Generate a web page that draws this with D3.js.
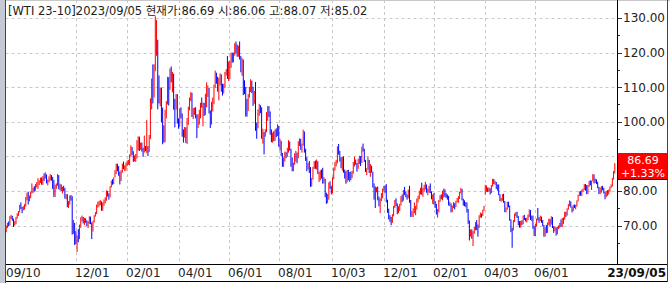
<!DOCTYPE html>
<html><head><meta charset="utf-8">
<script src="https://cdn.jsdelivr.net/npm/d3@7"></script>
<style>html,body{margin:0;padding:0;background:#fff;} svg{display:block;}</style>
</head><body>
<svg id="c" width="670" height="283"></svg>
<script>
// ---------------- DATA ----------------
const header = "[WTI 23-10]2023/09/05 현재가:86.69 시:86.06 고:88.07 저:85.02";
const startDate = "2021-09-10", endDate = "2023-09-05";
const holidays = ["2021-11-25","2021-12-24","2022-01-17","2022-02-21","2022-04-15","2022-05-30","2022-06-20","2022-07-04","2022-09-05","2022-11-24","2022-12-26","2023-01-02","2023-01-16","2023-02-20","2023-04-07","2023-05-29","2023-06-19","2023-07-04","2023-09-04"];

const closes = [
69.72,70.45,70.46,72.61,72.61,71.97,70.29,70.56,72.23,73.30,73.98,75.45,75.29,74.83,75.03,
75.88,77.62,78.93,77.43,78.30,79.35,80.52,80.64,80.44,81.31,82.28,82.44,82.96,83.87,82.50,83.76,83.76,84.65,82.66,82.81,83.57,
84.05,83.91,80.86,78.81,81.27,81.93,84.15,81.34,81.59,80.79,80.88,80.76,78.36,79.01,75.94,76.75,78.50,78.39,68.15,69.95,66.18,
65.57,66.50,66.26,69.49,72.05,72.36,70.94,71.67,71.29,70.73,70.87,72.38,70.86,68.61,71.12,72.76,73.79,75.57,75.98,76.56,76.99,75.21,
76.08,76.99,77.85,79.46,78.90,78.23,81.22,82.64,82.12,83.82,85.43,86.96,86.90,85.14,83.31,85.60,87.35,86.61,86.82,88.15,
88.20,88.26,90.27,92.31,91.32,89.36,89.66,89.88,93.10,95.46,92.07,93.66,91.76,91.07,92.35,92.10,92.81,91.59,95.72,
103.41,110.60,107.67,115.68,119.40,123.70,108.70,106.02,109.33,103.01,96.44,95.04,102.98,104.70,112.12,109.27,114.93,112.34,113.90,105.96,104.24,107.82,100.28,
99.27,103.28,101.96,96.23,96.03,98.26,94.29,100.60,104.25,106.95,108.21,102.56,102.75,103.79,102.07,98.54,101.70,102.02,105.36,104.69,
105.17,102.41,107.81,108.26,109.77,103.09,99.76,105.71,106.13,110.49,114.20,112.40,109.59,112.21,113.23,110.29,109.77,110.33,114.09,115.07,114.67,
115.26,116.87,118.87,118.50,119.41,122.11,121.51,120.67,120.93,118.93,115.31,117.59,109.56,109.52,106.19,104.27,107.62,109.57,111.76,109.78,105.76,
108.43,99.50,98.53,102.73,104.79,104.09,95.84,96.30,95.78,97.59,102.60,104.22,102.26,96.35,94.70,96.70,94.98,97.26,96.42,98.62,
93.89,94.42,90.66,88.54,89.01,90.76,90.50,91.93,94.34,92.09,89.41,86.53,87.85,90.50,90.77,90.23,93.74,94.89,92.52,93.06,97.01,91.64,89.55,
86.61,86.87,86.88,81.94,83.54,86.79,87.78,87.31,88.48,85.10,85.11,85.73,84.45,82.94,83.49,78.74,76.71,78.50,82.15,81.23,79.49,
83.63,86.52,87.76,88.45,92.64,91.13,89.35,87.27,89.11,85.61,85.46,82.82,85.55,84.51,85.05,84.58,85.32,87.91,89.08,87.90,86.53,
88.37,90.00,88.17,92.61,91.79,88.91,85.83,86.47,88.96,85.87,86.92,85.59,81.64,80.08,79.73,80.95,77.94,76.28,77.24,78.20,80.55,
81.22,79.98,76.93,74.25,72.01,71.46,71.02,73.17,75.39,77.28,76.11,74.29,75.19,76.09,78.29,77.49,79.56,79.53,78.96,78.40,80.26,
76.93,72.84,73.67,73.77,74.63,75.12,77.41,78.39,79.86,80.18,79.48,80.33,81.64,81.62,80.13,80.15,81.01,79.68,77.90,78.87,
76.41,75.88,73.39,74.11,77.14,78.47,78.06,79.72,80.14,79.06,78.59,78.49,76.34,76.36,73.95,75.39,76.32,75.68,77.05,
77.69,78.16,79.68,80.46,77.58,76.66,75.72,76.68,74.80,71.33,67.61,68.35,66.74,67.64,69.33,70.90,69.96,69.26,72.81,73.20,72.97,74.37,75.67,
80.42,80.71,80.61,80.70,79.74,81.53,83.26,82.16,82.52,80.83,81.86,79.16,77.37,77.87,78.76,77.07,74.30,74.76,76.78,
75.66,71.66,68.60,68.56,71.34,73.16,73.71,72.56,70.87,70.04,71.11,70.86,72.83,71.86,71.69,71.99,72.91,74.34,71.83,72.67,69.46,68.09,
70.10,71.74,72.15,71.74,72.53,71.29,70.17,67.12,69.42,68.27,70.62,71.78,70.50,72.53,69.51,69.16,69.37,67.70,69.56,69.86,70.64,
69.79,71.79,71.80,73.86,72.99,74.83,75.75,76.89,75.42,74.15,75.75,75.35,75.63,77.07,78.74,79.63,78.78,80.09,80.58,81.80,
81.37,79.49,81.55,82.82,81.94,82.92,84.40,82.82,83.19,82.51,80.99,79.38,80.39,81.25,80.72,79.64,78.89,79.05,79.83,80.10,81.16,81.63,83.63,
85.55,86.69
];
const opens = [
68.3,69.7,70.5,70.5,72.6,72.6,71.9,70.4,70.6,72.2,73.3,74.0,75.5,75.3,74.8,
75.0,75.9,77.6,78.9,77.4,78.3,79.4,80.5,80.6,80.4,81.3,82.3,82.4,83.0,83.9,82.5,83.8,83.8,84.6,82.7,82.8,
83.6,84.1,83.9,80.9,78.8,81.3,81.9,84.1,81.3,81.6,80.8,80.9,80.8,78.4,79.0,75.9,76.8,78.5,78.4,68.2,70.0,
66.2,65.6,66.5,66.3,69.5,72.1,72.4,70.9,71.7,71.3,70.7,70.9,72.4,70.9,68.6,71.1,72.8,73.8,75.6,76.0,76.6,77.0,
75.7,76.1,77.0,77.9,79.5,78.9,78.2,81.2,82.6,82.1,84.2,85.4,87.0,86.9,85.1,83.3,85.6,87.4,86.6,86.8,
88.2,88.2,88.3,90.3,92.3,91.3,89.4,89.7,89.9,93.1,95.5,92.1,93.7,91.8,91.1,92.4,92.1,92.8,91.6,
95.7,103.4,110.6,107.7,115.7,119.4,123.7,108.7,106.0,109.3,103.0,96.4,95.0,103.0,104.7,112.1,109.3,114.9,112.3,113.9,106.0,104.2,107.8,
100.3,99.3,103.3,102.0,96.2,96.0,98.3,94.3,100.6,104.3,107.0,108.2,102.6,102.8,103.8,102.1,98.5,101.7,102.0,105.4,
104.7,105.2,102.4,107.8,108.3,109.8,103.1,99.8,105.7,106.1,110.5,114.2,112.4,109.6,112.2,113.2,110.3,109.8,110.3,114.1,115.1,
114.7,115.3,116.9,118.9,118.5,119.4,122.1,121.5,120.7,120.9,118.9,115.3,117.6,109.6,109.5,106.2,104.3,107.6,109.6,111.8,109.8,
105.8,108.4,99.5,98.5,102.7,104.8,104.1,95.8,96.3,95.8,97.6,102.6,104.2,102.3,96.4,94.7,96.7,95.0,97.3,96.4,
98.6,93.9,94.4,90.7,88.5,89.0,90.8,90.5,91.9,94.3,92.1,89.4,86.5,87.9,90.5,90.8,90.2,93.7,94.9,92.5,93.1,97.0,91.6,
89.6,86.6,86.9,86.9,81.9,83.5,86.8,87.8,87.3,88.5,85.1,85.1,85.7,84.5,82.9,83.5,78.7,76.7,78.5,82.2,81.2,
79.5,83.6,86.5,87.8,88.5,92.6,91.1,89.4,87.3,89.1,85.6,85.5,82.8,85.6,84.5,85.1,84.6,85.3,87.9,89.1,87.9,
86.5,88.4,90.0,88.2,92.6,91.8,88.9,85.8,86.5,89.0,85.9,86.9,85.6,81.6,80.1,79.7,81.0,77.9,76.3,77.2,78.2,
80.6,81.2,80.0,76.9,74.3,72.0,71.5,71.0,73.2,75.4,77.3,76.1,74.3,75.2,76.1,78.3,77.5,79.6,79.5,79.0,78.4,
80.6,76.9,72.8,73.7,73.8,74.6,75.1,77.4,78.4,79.9,80.2,79.5,80.3,81.6,81.6,80.1,80.2,81.0,79.7,77.9,
78.9,76.4,75.9,73.4,74.1,77.1,78.5,78.1,79.7,80.1,79.1,78.6,78.5,76.3,76.4,74.0,75.4,76.3,75.7,
77.1,77.7,78.2,79.7,80.5,77.6,76.7,75.7,76.7,74.8,71.3,67.6,68.4,66.7,67.6,69.3,70.9,70.0,69.3,72.8,73.2,73.0,74.4,
80.1,80.4,80.7,80.6,80.7,79.7,81.5,83.3,82.2,82.5,80.8,81.9,79.2,77.4,77.9,78.8,77.1,74.3,74.8,
76.8,75.7,71.7,68.6,68.6,71.3,73.2,73.7,72.6,70.9,70.0,71.1,70.9,72.8,71.9,71.7,72.0,72.9,74.3,71.8,72.7,69.5,
68.1,70.1,73.5,72.2,71.7,72.5,71.3,70.2,67.1,69.4,68.3,70.6,71.8,70.5,72.5,69.5,69.2,69.4,67.7,69.6,69.9,
70.6,69.8,71.8,71.8,73.9,73.0,74.8,75.8,76.9,75.4,74.2,75.8,75.4,75.6,77.1,78.7,79.6,78.8,80.1,80.6,
81.8,81.4,79.5,81.6,82.8,81.9,82.9,84.4,82.8,83.2,82.5,81.0,79.4,80.4,81.3,80.7,79.6,78.9,79.1,79.8,80.1,81.2,81.6,
83.6,86.06
];
const highs = [
70.0,70.8,71.2,72.8,73.1,72.8,72.0,71.3,72.5,73.6,74.2,76.0,76.7,75.4,75.6,
76.2,78.3,79.5,79.8,78.7,79.8,82.2,81.0,81.4,82.0,82.6,83.7,83.1,83.9,83.9,84.3,85.1,85.4,84.8,83.3,84.2,
84.9,84.6,84.1,83.2,81.8,82.2,84.9,84.6,82.1,81.9,81.2,81.5,80.9,79.1,79.1,77.1,78.7,78.8,78.5,71.6,70.8,
68.4,67.1,69.0,70.3,72.4,72.9,72.5,72.2,72.1,71.5,71.3,72.7,72.6,70.9,71.4,73.0,73.9,76.1,76.9,77.1,77.4,77.0,
76.7,77.6,78.2,80.2,80.0,79.3,81.4,83.0,83.4,84.0,86.0,87.9,87.9,87.2,85.6,86.0,87.9,88.5,87.4,88.2,
88.8,89.0,90.6,93.2,92.7,91.5,90.3,90.7,94.7,95.8,95.7,94.0,94.0,92.5,96.0,93.0,100.5,93.0,96.2,
106.8,112.5,116.6,116.6,130.5,129.4,123.7,113.4,109.9,109.9,104.1,99.0,103.5,106.0,113.0,112.9,115.4,116.0,114.4,113.9,106.6,108.0,108.0,
101.0,103.9,104.2,102.4,97.8,98.5,98.4,101.1,104.4,107.0,108.6,108.4,104.0,104.1,104.2,102.1,102.2,103.5,105.5,107.0,
105.5,105.5,108.1,111.4,110.5,109.8,103.3,105.8,107.0,110.7,114.8,114.2,113.0,112.7,114.0,113.7,111.0,111.0,114.4,115.2,119.0,
117.4,117.6,120.0,120.0,120.0,122.7,123.2,122.3,122.0,123.2,119.0,118.4,118.0,112.0,110.1,106.6,108.0,110.1,112.3,111.9,110.1,
108.9,111.5,99.8,103.6,105.2,104.8,104.2,98.0,97.1,97.9,102.8,104.6,104.5,103.0,97.8,96.9,97.3,97.8,98.1,99.3,
98.8,95.1,94.5,91.0,89.7,91.4,91.2,92.5,94.7,94.3,92.2,89.7,88.2,90.9,91.6,91.1,94.4,95.2,95.1,93.7,97.7,97.2,92.2,
89.8,88.1,88.7,86.9,83.8,87.0,88.6,88.8,89.1,88.6,85.6,86.0,86.2,86.7,84.0,83.5,79.5,79.1,82.5,82.8,81.5,
84.0,86.8,88.4,89.0,92.9,93.6,91.6,89.8,89.8,90.0,86.2,85.7,86.1,86.1,85.5,85.6,85.8,88.4,89.9,89.1,88.1,
89.3,90.2,90.1,92.8,93.7,92.2,89.0,86.6,89.9,89.0,87.8,87.3,85.6,82.2,81.3,81.1,81.3,78.4,77.9,79.4,80.7,
81.5,81.6,82.0,77.5,74.9,73.0,72.5,73.3,75.7,77.4,77.9,76.4,75.6,76.3,78.5,79.0,80.3,81.2,79.9,79.0,80.4,
81.5,77.4,74.2,75.0,76.7,75.7,77.8,78.6,80.1,80.9,82.4,80.9,81.8,82.7,81.9,80.7,81.5,82.2,79.9,79.0,
79.4,77.1,76.3,74.8,77.4,78.8,79.0,80.1,80.7,80.5,79.4,79.0,78.6,76.9,76.4,75.8,76.8,76.5,77.2,
78.0,78.5,79.8,80.9,80.6,77.8,77.3,76.8,76.7,74.8,71.5,68.9,68.9,68.4,69.6,71.0,71.6,70.3,73.0,73.8,73.5,74.6,75.7,
81.8,81.6,81.0,81.0,80.8,81.7,83.5,83.5,83.0,82.6,81.9,81.9,79.1,78.0,79.1,79.2,77.1,75.2,76.9,
76.9,75.8,71.8,69.4,71.6,73.5,73.9,74.0,72.8,71.3,71.4,71.5,72.9,73.1,72.2,72.3,73.2,74.7,74.5,72.9,72.9,69.9,
70.5,72.0,75.1,72.4,72.9,72.6,71.6,70.2,69.5,70.2,70.9,72.0,71.9,72.7,72.5,69.8,69.8,69.5,69.7,70.1,70.8,
71.8,72.2,72.4,74.0,74.0,75.0,76.2,77.3,77.0,75.5,76.0,76.1,76.0,77.3,78.9,79.9,80.0,80.4,80.7,82.0,
82.0,81.7,81.7,82.9,83.1,83.0,84.9,84.8,83.6,83.4,82.7,81.2,81.0,81.4,81.5,80.9,79.8,80.0,80.3,80.4,81.3,81.9,83.8,
85.8,88.07
];
const lows = [
68.1,69.3,69.8,70.0,71.9,71.4,69.6,70.0,70.4,72.0,72.8,73.8,74.8,73.6,74.4,
74.6,75.5,77.3,76.1,77.0,77.9,79.3,79.4,79.8,80.1,81.0,80.6,81.7,82.3,81.8,81.8,82.9,83.6,82.2,81.6,82.5,
83.0,83.0,80.6,78.3,78.3,80.6,81.5,80.5,80.2,80.0,79.3,79.9,77.8,77.6,75.3,75.1,76.1,77.2,67.4,67.6,64.4,
64.6,62.4,65.2,66.1,69.4,71.2,70.6,70.2,70.8,69.8,69.3,70.5,70.4,66.1,68.3,70.9,72.6,73.3,75.2,75.5,75.9,74.3,
74.3,75.7,76.4,77.2,78.4,77.5,78.2,81.0,81.8,82.0,84.0,84.9,85.7,84.4,81.9,82.9,85.3,86.3,85.7,85.9,
87.2,87.6,87.4,89.9,90.4,88.4,88.6,88.4,89.4,91.7,91.6,91.9,91.4,89.9,91.1,91.5,91.0,90.1,91.3,
95.0,103.6,105.3,107.0,114.6,119.1,103.6,105.3,104.5,99.8,93.5,94.0,94.1,101.0,105.0,104.7,109.2,111.4,108.5,103.5,98.4,103.5,99.5,
98.0,98.6,101.0,95.7,94.0,95.4,93.9,93.6,99.1,103.3,106.0,101.4,100.8,102.0,101.0,95.3,98.2,99.2,101.0,104.1,
98.7,101.7,102.0,104.2,107.2,102.4,98.2,99.2,103.0,105.1,109.8,111.0,108.7,106.2,110.5,108.7,107.6,108.2,109.8,113.4,112.4,
111.8,112.4,115.6,117.1,117.2,119.1,119.8,118.8,118.8,118.0,114.3,113.3,107.7,108.0,101.5,101.5,103.1,107.0,108.6,108.3,104.6,
105.2,97.4,95.1,98.1,101.7,102.5,95.1,93.7,90.6,95.7,97.0,100.3,101.4,96.3,94.1,94.0,94.4,94.5,95.6,95.9,
92.8,91.8,90.1,87.0,87.0,88.5,89.5,89.9,91.1,91.7,87.0,85.7,85.7,87.6,88.5,88.0,89.5,93.0,91.9,91.1,93.1,91.1,88.7,
85.7,86.2,85.2,81.2,81.3,83.3,86.4,86.4,86.2,84.9,82.6,83.1,83.6,82.1,82.2,78.2,76.3,76.5,77.5,80.6,79.0,
79.4,83.4,85.9,87.1,88.0,90.5,88.5,86.6,85.9,85.3,83.6,82.1,82.5,83.1,82.6,83.1,83.7,85.0,87.1,87.6,85.6,
86.4,87.8,87.2,88.1,91.4,88.4,85.5,84.6,86.2,85.2,84.1,85.3,81.0,77.5,75.1,79.6,77.3,75.6,73.6,77.1,77.9,
79.9,79.5,76.7,73.7,71.8,71.1,70.1,70.8,72.7,75.1,75.6,73.3,73.6,74.2,75.8,76.8,77.2,78.8,78.2,77.5,77.9,
76.6,72.5,72.5,72.5,73.6,73.0,74.6,76.7,77.6,79.0,78.9,78.3,79.8,80.4,79.5,78.8,79.5,79.4,77.6,76.3,
76.1,75.1,73.2,72.3,73.8,76.8,77.6,77.3,78.1,78.3,78.0,77.5,75.8,75.6,73.8,73.9,75.1,74.7,75.4,
76.7,76.6,77.7,79.3,77.3,75.8,75.6,75.3,73.8,70.5,65.7,66.8,66.2,64.1,67.6,68.6,68.7,66.8,69.3,72.3,72.3,72.8,74.2,
79.0,79.8,79.7,79.8,79.0,79.4,81.3,82.0,81.8,80.6,80.1,78.8,77.1,76.9,77.2,76.6,73.9,73.8,74.6,
75.3,71.4,68.1,63.6,68.6,71.0,72.7,72.2,70.1,69.4,69.4,70.1,70.4,71.6,71.2,70.9,71.6,72.4,71.6,71.3,69.1,67.0,
67.0,69.7,71.5,70.8,71.3,70.8,69.8,66.8,66.8,67.8,67.9,70.2,69.7,70.3,69.3,67.9,68.4,67.1,67.5,69.0,69.3,
69.6,69.6,70.5,71.7,72.5,72.9,74.6,75.6,75.2,73.8,74.2,75.1,74.7,75.5,77.0,78.6,78.6,78.6,79.8,80.3,
80.1,79.1,79.1,81.2,81.6,80.3,82.8,82.2,82.3,82.0,80.8,79.1,79.1,79.5,80.2,79.3,77.6,78.2,78.6,79.0,79.8,80.9,81.3,
83.3,85.02
];

const tickDates = ["2021-09-10","2021-12-01","2022-02-01","2022-04-01","2022-06-01","2022-08-01","2022-10-03","2022-12-01","2023-02-01","2023-04-03","2023-06-01"];
const tickLabels = ["09/10","12/01","02/01","04/01","06/01","08/01","10/03","12/01","02/01","04/03","06/01"];
const lastDateLabel = "23/09/05";
const yTicks = [70,80,90,100,110,120,130];
const yMinor = [65,75,85,95,105,115,125];
const lastPrice = "86.69", lastChange = "+1.33%";

// ---------------- DATES (trading days) ----------------
const hol = new Set(holidays);
const dates = [];
{
  let d = new Date(startDate + "T00:00:00Z");
  const end = new Date(endDate + "T00:00:00Z");
  while (d <= end) {
    const wd = d.getUTCDay();
    const s = d.toISOString().slice(0,10);
    if (wd !== 0 && wd !== 6 && !hol.has(s)) dates.push(s);
    d = new Date(d.getTime() + 86400000);
  }
}
const bars = dates.map((d,i)=>({d, o:opens[i], h:highs[i], l:lows[i], c:closes[i]}));

// ---------------- LAYOUT ----------------
const svg = d3.select("#c");
const plotL = 5.5, plotR = 617, plotT = 0, plotB = 264;

const x = d3.scaleBand().domain(dates).range([5.6, 615.4]).paddingInner(0);
const bw = x.bandwidth();
const xc = d => x(d) + bw/2;
const y = d3.scaleLinear().domain([70,130]).range([225.6, 18]);

const font = "'DejaVu Sans','Noto Sans CJK KR',sans-serif";

// price box geometry (covers the axis label it sits on)
const boxY = 153, boxH = 26;

// left gray strip & frame
svg.append("rect").attr("x",0).attr("y",0).attr("width",5).attr("height",283).attr("fill","#c3cad4");
svg.append("line").attr("x1",0).attr("x2",670).attr("y1",0.5).attr("y2",0.5).attr("stroke","#c8c8c8");

// grid
const grid = svg.append("g").attr("stroke","#c8c8c8").attr("stroke-dasharray","3,3").attr("stroke-width",1);
grid.selectAll("line.h").data(yTicks).join("line").attr("class","h")
  .attr("x1",plotL).attr("x2",plotR).attr("y1",d=>Math.round(y(d))+0.5).attr("y2",d=>Math.round(y(d))+0.5);
grid.selectAll("line.v").data(tickDates.slice(1)).join("line").attr("class","v")
  .attr("x1",d=>Math.round(xc(d))+0.5).attr("x2",d=>Math.round(xc(d))+0.5).attr("y1",plotT).attr("y2",plotB);

// bars
svg.append("g").selectAll("rect").data(bars).join("rect")
  .attr("x",b=>xc(b.d)-0.5).attr("width",1)
  .attr("y",b=>y(b.h)).attr("height",b=>Math.max(1,y(b.l)-y(b.h)))
  .attr("fill",b=>b.c>=b.o?"#ff0000":"#0000ff");

// header
svg.append("text").attr("x",8).attr("y",15).attr("font-family",font).attr("font-size",11.5)
  .attr("fill","#222").text(header);

// right axis
svg.append("line").attr("x1",617.5).attr("x2",617.5).attr("y1",0).attr("y2",264).attr("stroke","#000");
const ax = svg.append("g");
ax.selectAll("line.maj").data(yTicks).join("line").attr("class","maj")
  .attr("x1",618).attr("x2",622).attr("y1",d=>Math.round(y(d))+0.5).attr("y2",d=>Math.round(y(d))+0.5).attr("stroke","#333");
ax.selectAll("line.min").data(yMinor).join("line").attr("class","min")
  .attr("x1",618).attr("x2",620).attr("y1",d=>Math.round(y(d))+0.5).attr("y2",d=>Math.round(y(d))+0.5).attr("stroke","#333");
// labels hidden under the price box are not drawn
ax.selectAll("text").data(yTicks.filter(v => y(v) < boxY - 6 || y(v) > boxY + boxH + 6)).join("text")
  .attr("x",623).attr("y",d=>y(d)).attr("dy","0.36em")
  .attr("font-family",font).attr("font-size",12).attr("fill","#222")
  .text(d=>d3.format(".2f")(d));

// current price box
svg.append("rect").attr("x",618).attr("y",boxY).attr("width",50).attr("height",boxH).attr("fill","#ff0000");
svg.append("line").attr("x1",618).attr("x2",668).attr("y1",boxY+boxH+0.5).attr("y2",boxY+boxH+0.5).attr("stroke","#000");
svg.append("text").attr("x",643).attr("y",163.5).attr("text-anchor","middle")
  .attr("font-family",font).attr("font-size",11).attr("fill","#fff").text(lastPrice);
svg.append("text").attr("x",643).attr("y",177).attr("text-anchor","middle")
  .attr("font-family",font).attr("font-size",11).attr("fill","#fff").text(lastChange);

// bottom strip
svg.append("line").attr("x1",5).attr("x2",668).attr("y1",264.5).attr("y2",264.5).attr("stroke","#000");
svg.append("line").attr("x1",5).attr("x2",668).attr("y1",281.5).attr("y2",281.5).attr("stroke","#000");
svg.selectAll("text.xl").data(tickDates).join("text").attr("class","xl")
  .attr("x",(d,i)=> i===0 ? 6 : Math.round(xc(d)) - 1).attr("y",273).attr("dy","0.36em")
  .attr("font-family",font).attr("font-size",12).attr("fill","#222")
  .text((d,i)=>tickLabels[i]);
svg.append("text").attr("x",666).attr("y",273).attr("dy","0.36em").attr("text-anchor","end")
  .attr("font-family",font).attr("font-size",12).attr("font-weight","bold").attr("fill","#111").text(lastDateLabel);

// frame lines
svg.append("line").attr("x1",5.5).attr("x2",5.5).attr("y1",0).attr("y2",283).attr("stroke","#444");
svg.append("line").attr("x1",667.5).attr("x2",667.5).attr("y1",0).attr("y2",282).attr("stroke","#444");
</script>
</body></html>
